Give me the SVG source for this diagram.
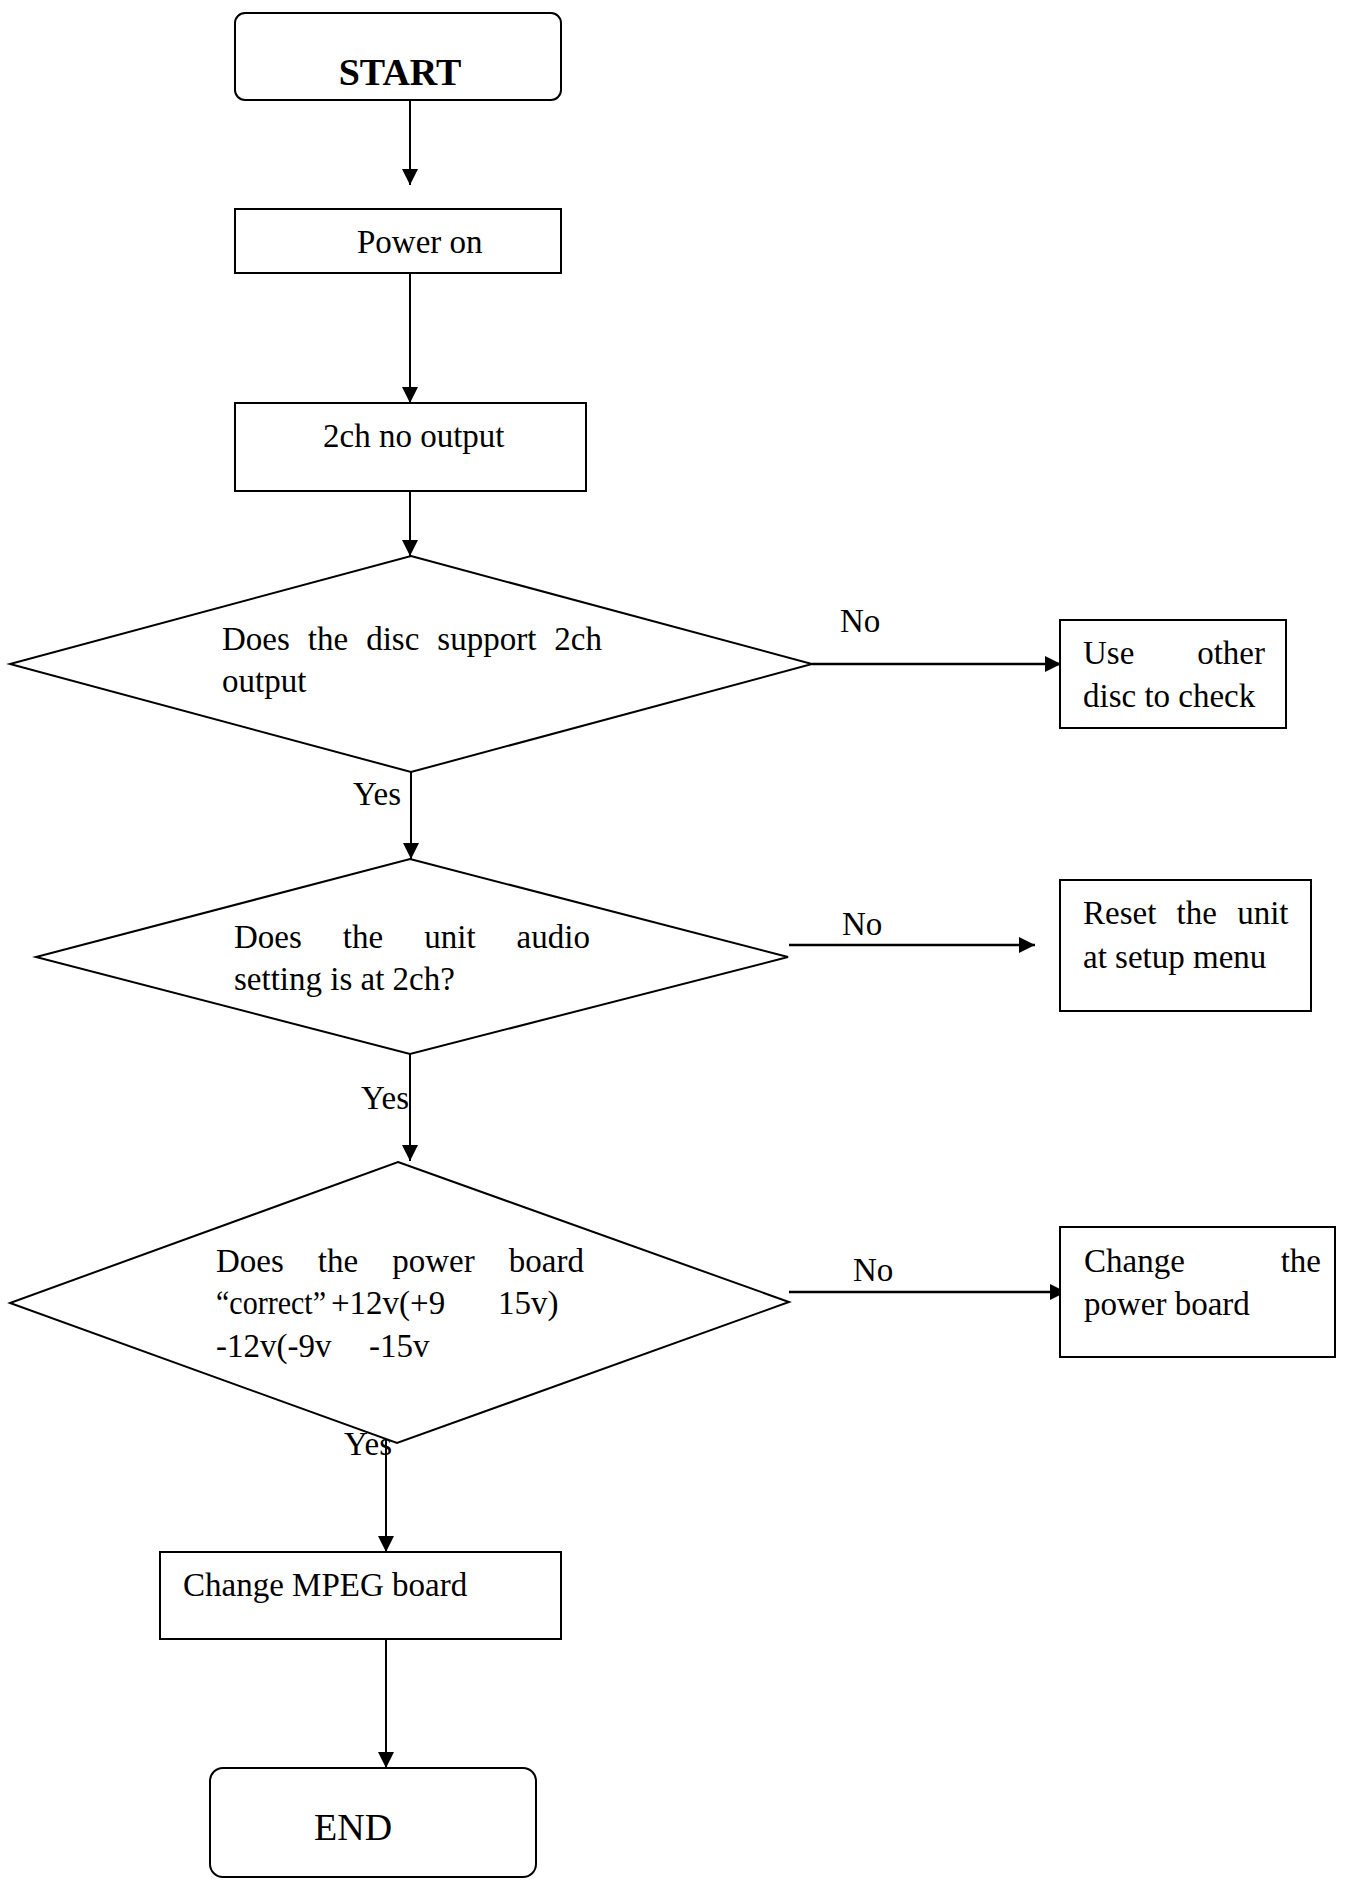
<svg xmlns="http://www.w3.org/2000/svg" width="1345" height="1887" viewBox="0 0 1345 1887">
<style>
.shape{fill:#fff;stroke:#000;stroke-width:2}
.conn{fill:none;stroke:#000;stroke-width:2}
.connh{fill:none;stroke:#000;stroke-width:2.5}
text{font-family:"Liberation Serif","Times New Roman",serif;font-size:33px;fill:#000}
.big{font-size:38px}
.bold{font-weight:bold}
</style>
<defs>
<marker id="arr" markerUnits="userSpaceOnUse" markerWidth="16" markerHeight="16" refX="16" refY="8" orient="auto" viewBox="0 0 16 16">
<path d="M0,0 L16,8 L0,16 z" fill="#000"/>
</marker>
</defs>
<rect width="1345" height="1887" fill="#fff"/>

<g id="connectors">
<line class="conn" x1="410" y1="100" x2="410" y2="185" marker-end="url(#arr)"/>
<line class="conn" x1="410" y1="273" x2="410" y2="403" marker-end="url(#arr)"/>
<line class="conn" x1="410" y1="491" x2="410" y2="556" marker-end="url(#arr)"/>
<line class="conn" x1="411" y1="772" x2="411" y2="859" marker-end="url(#arr)"/>
<line class="conn" x1="410" y1="1054" x2="410" y2="1161" marker-end="url(#arr)"/>
<line class="conn" x1="386" y1="1440" x2="386" y2="1552" marker-end="url(#arr)"/>
<line class="conn" x1="386" y1="1639" x2="386" y2="1768" marker-end="url(#arr)"/>
<line class="connh" x1="812" y1="664" x2="1061" y2="664" marker-end="url(#arr)"/>
<line class="connh" x1="789" y1="945" x2="1035" y2="945" marker-end="url(#arr)"/>
<line class="connh" x1="789" y1="1292" x2="1066" y2="1292" marker-end="url(#arr)"/>
<text x="840" y="632">No</text>
<text x="842" y="935">No</text>
<text x="853" y="1281">No</text>
<text x="353" y="805">Yes</text>
<text x="361" y="1109">Yes</text>
<text x="344" y="1455">Yes</text>
</g>

<g id="start">
<rect class="shape" x="235" y="13" width="326" height="87" rx="10"/>
<text class="big bold" x="400" y="85" text-anchor="middle">START</text>
</g>

<g id="power-on">
<rect class="shape" x="235" y="209" width="326" height="64"/>
<text x="357" y="253">Power on</text>
</g>

<g id="no-output">
<rect class="shape" x="235" y="403" width="351" height="88"/>
<text x="323" y="447">2ch no output</text>
</g>

<g id="q-disc">
<polygon class="shape" points="411,556 812,664 411,772 10,664"/>
<text x="222" y="650" word-spacing="9.75">Does the disc support 2ch</text>
<text x="222" y="692">output</text>
</g>

<g id="use-other">
<rect class="shape" x="1060" y="620" width="226" height="108"/>
<text x="1083" y="664">Use</text>
<text x="1265" y="664" text-anchor="end">other</text>
<text x="1083" y="707">disc to check</text>
</g>

<g id="q-setting">
<polygon class="shape" points="410,859 788,957 410,1054 36,957"/>
<text x="234" y="948" word-spacing="32.8">Does the unit audio</text>
<text x="234" y="990">setting is at 2ch?</text>
</g>

<g id="reset">
<rect class="shape" x="1060" y="880" width="251" height="131"/>
<text x="1083" y="924" word-spacing="12">Reset the unit</text>
<text x="1083" y="968">at setup menu</text>
</g>

<g id="q-power">
<polygon class="shape" points="398,1162 789,1302 397,1443 10,1303"/>
<text x="216" y="1272" word-spacing="25.8">Does the power board</text>
<text x="216" y="1314" textLength="110" lengthAdjust="spacingAndGlyphs">“correct”</text>
<text y="1314"><tspan x="331">+12v(+9</tspan><tspan x="498">15v)</tspan></text>
<text y="1357"><tspan x="216">-12v(-9v</tspan><tspan x="369">-15v</tspan></text>
</g>

<g id="change-power">
<rect class="shape" x="1060" y="1227" width="275" height="130"/>
<text x="1084" y="1272">Change</text>
<text x="1321" y="1272" text-anchor="end">the</text>
<text x="1084" y="1315">power board</text>
</g>

<g id="change-mpeg">
<rect class="shape" x="160" y="1552" width="401" height="87"/>
<text x="183" y="1596">Change MPEG board</text>
</g>

<g id="end">
<rect class="shape" x="210" y="1768" width="326" height="109" rx="13"/>
<text class="big" x="314" y="1840">END</text>
</g>
</svg>
